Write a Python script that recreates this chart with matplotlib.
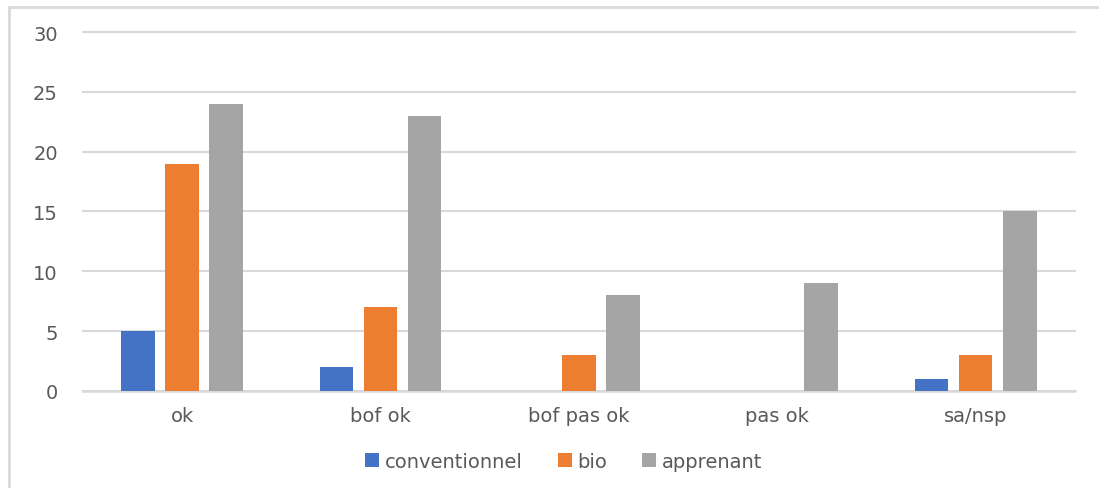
import matplotlib
matplotlib.use("Agg")
import matplotlib.pyplot as plt
import numpy as np
from matplotlib.patches import Patch
from matplotlib.lines import Line2D

categories = ["ok", "bof ok", "bof pas ok", "pas ok", "sa/nsp"]
series_names = ["conventionnel", "bio", "apprenant"]
conventionnel = [5, 2, 0, 0, 1]
bio = [19, 7, 3, 0, 3]
apprenant = [24, 23, 8, 9, 15]
y_ticks = [0, 5, 10, 15, 20, 25, 30]

colors = ["#4472C4", "#ED7D31", "#A5A5A5"]
text_color = "#595959"
grid_color = "#D9D9D9"

plt.rcParams["font.family"] = ["DejaVu Sans"]

fig = plt.figure(figsize=(10.99, 4.89), dpi=100)
ax = fig.add_axes([0.0755, 0.1984, 0.9025, 0.7341])

x = np.arange(len(categories))
offset = 0.222
width = 0.17
for i, (vals, col) in enumerate(zip([conventionnel, bio, apprenant], colors)):
    ax.bar(x + (i - 1) * offset, vals, width=width, color=col, zorder=3)

ax.set_xlim(-0.5, len(categories) - 0.5)
ax.set_ylim(0, 30)
ax.set_yticks(y_ticks)
ax.set_xticks(x)
ax.set_xticklabels(categories)

ax.yaxis.grid(True, color=grid_color, linewidth=1.5, zorder=0)
for gl in ax.get_ygridlines():
    gl.set_clip_on(False)
ax.set_axisbelow(True)
for side in ["top", "right", "left"]:
    ax.spines[side].set_visible(False)
ax.spines["bottom"].set_color(grid_color)
ax.spines["bottom"].set_linewidth(1.8)
ax.tick_params(axis="both", length=0, labelsize=14, labelcolor=text_color)
ax.tick_params(axis="y", pad=18)
ax.tick_params(axis="x", pad=11)

handles = [Patch(facecolor=c, edgecolor="none") for c in colors]
fig.legend(handles, series_names, loc="center", bbox_to_anchor=(0.513, 0.055),
           ncol=3, frameon=False, fontsize=14, labelcolor=text_color,
           handlelength=0.72, handleheight=0.72, handletextpad=0.3,
           columnspacing=1.8)

# chart frame
fig.add_artist(Line2D([0.0082, 1.0], [0.984, 0.984], transform=fig.transFigure,
                      color=grid_color, linewidth=2))
fig.add_artist(Line2D([0.0082, 0.0082], [0.0, 0.984], transform=fig.transFigure,
                      color=grid_color, linewidth=2))

fig.savefig("out.png", dpi=100, facecolor="white")
